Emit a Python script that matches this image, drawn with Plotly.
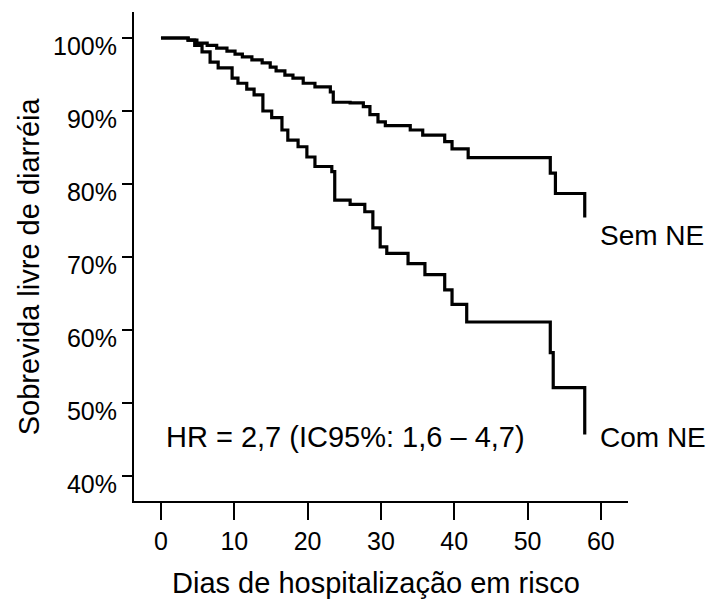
import plotly.graph_objects as go

# Kaplan-Meier style step data (days, % diarrhea-free survival)
sem_ne_days = [0, 3.7, 4.9, 6.3, 7.6, 9.0, 10.1, 11.1, 12.4, 13.8, 14.9, 15.7, 16.9, 18.0, 19.4,
               21.0, 23.1, 23.5, 25.8, 27.6, 28.5, 29.6, 30.6, 34.0, 35.7, 38.7, 39.7, 41.9,
               53.1, 53.8, 57.8]
sem_ne_surv = [100, 99.7, 99.3, 99.0, 98.6, 98.2, 97.8, 97.4, 97.0, 96.6, 96.0, 95.5, 94.9, 94.5, 93.8,
               93.3, 92.6, 91.2, 91.1, 90.6, 89.5, 88.5, 88.0, 87.4, 86.7, 85.8, 84.8, 83.6,
               81.5, 78.7, 75.4]

com_ne_days = [0, 3.7, 4.6, 5.6, 6.7, 7.8, 9.7, 10.5, 11.7, 12.7, 13.9, 15.1, 16.5, 17.3, 18.7,
               19.9, 21.0, 23.3, 23.7, 25.8, 27.8, 28.9, 29.9, 30.8, 33.7, 36.0, 38.7, 39.7,
               41.7, 53.1, 53.5, 57.8]
com_ne_surv = [100, 99.7, 99.0, 98.1, 96.7, 95.9, 94.5, 93.8, 93.0, 92.2, 90.0, 89.1, 87.4, 86.0, 85.1,
               83.7, 82.4, 81.7, 77.8, 77.2, 76.2, 74.0, 71.4, 70.5, 69.1, 67.6, 65.5, 63.5,
               61.1, 56.9, 52.1, 45.7]

x_ticks = [0, 10, 20, 30, 40, 50, 60]
y_ticks = [40, 50, 60, 70, 80, 90, 100]
y_tick_labels = ["40%", "50%", "60%", "70%", "80%", "90%", "100%"]

group_labels = ["Sem NE", "Com NE"]
hr_text = "HR = 2,7 (IC95%: 1,6 – 4,7)"
x_title = "Dias de hospitalização em risco"
y_title = "Sobrevida livre de diarréia"

FONT = "Liberation Sans, Arial, sans-serif"

fig = go.Figure()
fig.add_trace(go.Scatter(x=sem_ne_days, y=sem_ne_surv, mode="lines",
                         line=dict(shape="hv", color="black", width=3.2), showlegend=False))
fig.add_trace(go.Scatter(x=com_ne_days, y=com_ne_surv, mode="lines",
                         line=dict(shape="hv", color="black", width=3.2), showlegend=False))

fig.add_annotation(x=sem_ne_days[-1] + 1.8, y=73.0, text=group_labels[0], showarrow=False,
                   xanchor="left", yanchor="middle", font=dict(family=FONT, size=28, color="black"))
fig.add_annotation(x=com_ne_days[-1] + 1.8, y=45.3, text=group_labels[1], showarrow=False,
                   xanchor="left", yanchor="middle", font=dict(family=FONT, size=28, color="black"))
fig.add_annotation(x=0.45, y=45.3, text=hr_text, showarrow=False,
                   xanchor="left", yanchor="middle", font=dict(family=FONT, size=29, color="black"))

fig.add_annotation(xref="paper", yref="paper", x=0.49, y=0, yshift=-82, text=x_title,
                   showarrow=False, xanchor="center", yanchor="middle",
                   font=dict(family=FONT, size=29, color="black"))
fig.add_annotation(xref="paper", yref="paper", x=0, xshift=-105, y=0.48, text=y_title,
                   textangle=-90, showarrow=False, xanchor="center", yanchor="middle",
                   font=dict(family=FONT, size=29, color="black"))

fig.update_layout(
    width=710, height=606,
    margin=dict(l=134, r=82, t=12, b=105),
    paper_bgcolor="white", plot_bgcolor="white",
    font=dict(family=FONT, color="black"),
    xaxis=dict(range=[-3.68, 63.7], tickvals=x_ticks, ticks="outside", ticklen=17, tickwidth=2,
               tickcolor="black", showline=True, linewidth=2, linecolor="black",
               showgrid=False, zeroline=False, tickfont=dict(size=25, family=FONT)),
    yaxis=dict(range=[36.58, 103.56], tickvals=y_ticks, ticktext=y_tick_labels, ticks="outside",
               ticklen=10, tickwidth=2, tickcolor="black", showline=True, linewidth=2,
               linecolor="black", showgrid=False, zeroline=False,
               tickfont=dict(size=25, family=FONT), ticklabelshift=8),
)

fig.write_html("out.html")
